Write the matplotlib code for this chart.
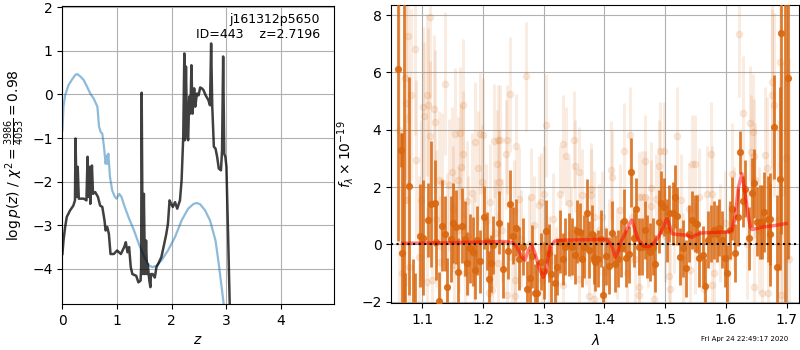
import numpy as np
import matplotlib
matplotlib.use('Agg')
import matplotlib.pyplot as plt

# --- left panel: log p(z) and prior
z_pz = [0.0, 0.02, 0.05, 0.08, 0.14, 0.20, 0.23, 0.24, 0.26, 0.28, 0.30, 0.39, 0.44, 0.46, 0.48, 0.50,
        0.51, 0.54, 0.56, 0.60, 0.65, 0.69, 0.73, 0.77, 0.79, 0.82, 0.85, 0.88, 0.94, 1.00, 1.07, 1.13,
        1.16, 1.19, 1.22, 1.25, 1.28, 1.35, 1.39, 1.43, 1.44, 1.45, 1.47, 1.49, 1.51, 1.53, 1.55, 1.56,
        1.59, 1.61, 1.62, 1.65, 1.69, 1.72, 1.75, 1.81, 1.85, 1.90, 1.93, 1.96, 1.99, 2.02, 2.06, 2.10,
        2.15, 2.18, 2.21, 2.23, 2.24, 2.26, 2.28, 2.30, 2.32, 2.34, 2.36, 2.38, 2.41, 2.43, 2.46, 2.49,
        2.52, 2.55, 2.58, 2.62, 2.67, 2.70, 2.72, 2.74, 2.77, 2.80, 2.83, 2.86, 2.90, 2.92, 2.94, 2.96,
        2.98, 3.00, 3.03, 3.06, 3.10]
logp = [-3.66, -3.35, -3.04, -2.81, -2.66, -2.55, -2.43, -1.01, -2.35, -1.66, -2.39, -2.39, -2.43, -1.43,
        -2.35, -1.66, -2.51, -1.63, -2.28, -2.24, -2.35, -2.55, -2.58, -2.89, -3.12, -3.04, -3.20, -3.66,
        -3.66, -3.58, -3.66, -3.50, -3.39, -3.62, -3.50, -3.96, -4.12, -4.16, -4.31, -4.27, -3.96, 0.04,
        -4.12, -2.28, -4.12, -3.35, -4.12, -3.89, -4.27, -4.42, -4.12, -4.12, -4.20, -3.96, -3.89, -3.73,
        -3.50, -3.20, -2.97, -2.43, -2.51, -2.58, -2.47, -2.62, -2.43, -1.97, -0.97, 0.94, -1.05, 0.64,
        -0.90, -1.05, -0.05, -0.44, 0.67, -0.44, 0.14, -0.28, 0.02, -0.02, 0.16, 0.14, 0.10, -0.02, -0.13,
        -0.25, 1.17, -0.25, -1.20, -1.24, -1.43, -1.70, -1.74, -1.28, 0.87, -1.36, -1.43, -1.66, -3.20,
        -4.81, -8.0]

z_prior = [0.0, 0.02, 0.05, 0.11, 0.17, 0.23, 0.27, 0.33, 0.39, 0.45, 0.51, 0.57, 0.64, 0.67, 0.70, 0.73,
           0.76, 0.79, 0.81, 0.82, 0.84, 0.87, 0.91, 0.96, 0.99, 1.04, 1.08, 1.14, 1.22, 1.31, 1.41, 1.50,
           1.59, 1.65, 1.72, 1.81, 1.93, 2.06, 2.18, 2.30, 2.40, 2.46, 2.52, 2.61, 2.70, 2.80, 2.86, 2.92,
           2.95, 3.00]
prior = [-0.82, -0.28, -0.02, 0.21, 0.33, 0.44, 0.47, 0.41, 0.33, 0.18, 0.02, -0.09, -0.28, -0.74, -0.86,
         -0.90, -1.20, -1.59, -1.40, -1.59, -1.36, -1.89, -2.20, -2.35, -2.39, -2.28, -2.35, -2.58, -2.85,
         -3.12, -3.47, -3.73, -3.93, -3.96, -3.93, -3.81, -3.58, -3.27, -2.89, -2.62, -2.51, -2.49, -2.52,
         -2.66, -2.89, -3.35, -3.89, -4.50, -4.81, -5.50]

# --- right panel: binned spectrum
lam_bin = [1.0604, 1.0654, 1.0665, 1.0699, 1.0721, 1.0786, 1.0842, 1.0875, 1.0957, 1.1017, 1.1094, 1.1144,
           1.1204, 1.1231, 1.1281, 1.1331, 1.1374, 1.1407, 1.1468, 1.1512, 1.1556, 1.1594, 1.1649, 1.1699,
           1.1732, 1.1792, 1.1831, 1.1875, 1.1908, 1.1957, 1.2012, 1.2061, 1.2094, 1.2133, 1.2171, 1.2270,
           1.2325, 1.2413, 1.2451, 1.2495, 1.2550, 1.2600, 1.2655, 1.2731, 1.2770, 1.2808, 1.2863, 1.2896,
           1.2950, 1.3006, 1.3045, 1.3085, 1.3127, 1.3182, 1.3226, 1.3270, 1.3313, 1.3358, 1.3413, 1.3468,
           1.3512, 1.3550, 1.3594, 1.3632, 1.3671, 1.3715, 1.3753, 1.3797, 1.3830, 1.3852, 1.3896, 1.3940,
           1.3984, 1.4028, 1.4083, 1.4127, 1.4171, 1.4220, 1.4270, 1.4319, 1.4363, 1.4401, 1.4445, 1.4489,
           1.4522, 1.4566, 1.4621, 1.4665, 1.4709, 1.4758, 1.4802, 1.4841, 1.4896, 1.4940, 1.4984, 1.5028,
           1.5072, 1.5127, 1.5171, 1.5203, 1.5247, 1.5297, 1.5346, 1.5390, 1.5445, 1.5489, 1.5533, 1.5566,
           1.5621, 1.5665, 1.5709, 1.5758, 1.5802, 1.5852, 1.5885, 1.5940, 1.5984, 1.6027, 1.6071, 1.6104,
           1.6150, 1.6203, 1.6242, 1.6286, 1.6324, 1.6390, 1.6434, 1.6467, 1.6516, 1.6560, 1.6599, 1.6632,
           1.6687, 1.6720, 1.6736, 1.6786, 1.6841, 1.6885, 1.6912, 1.6970, 1.7022]
flux_bin = [6.11, 3.29, -0.30, 9.00, -3.20, 2.04, -2.80, -2.90, 0.30, 0.24, 0.85, 1.40,
            1.46, 0.07, -1.98, 0.66, 0.38, -1.48, 0.20, 0.75, 0.61, -0.97, 0.66, 0.20,
            -0.66, -0.14, -0.26, -0.90, 0.15, -0.58, 0.94, 0.12, -1.22, -0.66, -0.02, 0.75,
            -0.87, -0.22, 1.40, 0.30, 0.58, -0.50, -0.08, -1.57, -1.17, -0.41, -1.69, -1.69,
            -0.60, -0.92, 0.46, -0.30, -1.04, -1.34, -0.78, 0.10, -0.50, -0.08, 0.00, -0.08,
            -0.37, 0.46, 0.43, -0.50, -0.08, 1.10, -0.18, 0.38, -0.47, -0.61, -0.50, 0.20,
            -1.77, -0.41, -0.74, 0.41, -0.67, -0.50, -0.14, 0.82, -0.49, -0.34, 2.51, 0.21,
            1.22, -0.08, -0.08, 0.50, -0.08, -0.26, -0.08, -0.67, 0.79, 1.46, 1.31, 0.50,
            1.08, 1.08, 1.66, 0.99, -0.43, -0.14, -0.84, 0.38, 0.85, 0.73, 0.71, -0.49,
            -0.37, -1.46, 0.17, 0.38, 0.50, 0.38, 0.59, 0.17, -0.49, -1.01, 0.50, 1.25,
            -0.30, 0.96, 3.21, 1.50, 1.95, 0.21, 1.81, 2.13, 0.79, 0.79, 0.79, 1.14,
            0.88, 0.88, 0.35, 4.10, -0.78, 2.30, 7.36, 9.00, 5.79]
err_bin = [6.0, 0.6, 4.2, 11.0, 2.2, 3.8, 2.3, 1.9, 1.8, 2.0, 1.3, 2.2,
           1.5, 1.3, 1.0, 1.6, 1.3, 1.0, 1.5, 1.4, 1.3, 1.2, 1.3, 1.3,
           1.1, 1.2, 1.2, 1.0, 1.2, 1.1, 1.1, 1.0, 1.0, 1.0, 1.0, 1.1,
           1.0, 1.0, 1.2, 1.0, 1.0, 1.1, 1.0, 1.0, 1.0, 1.1, 1.0, 1.1,
           1.0, 1.0, 1.1, 1.0, 1.0, 1.0, 1.0, 1.1, 0.9, 1.0, 1.1, 1.0,
           1.0, 1.1, 1.0, 1.0, 1.1, 1.2, 1.0, 1.0, 0.9, 1.0, 1.0, 1.0,
           1.0, 1.0, 1.0, 1.1, 1.0, 1.0, 1.0, 1.1, 1.0, 1.0, 1.2, 1.0,
           1.1, 1.0, 1.0, 1.0, 1.1, 1.0, 1.0, 1.0, 1.1, 1.1, 1.0, 1.1,
           1.0, 1.1, 1.1, 1.0, 1.0, 1.0, 1.0, 1.0, 1.0, 1.0, 1.0, 1.0,
           1.0, 1.0, 1.0, 1.0, 1.0, 1.0, 1.0, 1.0, 1.0, 1.0, 1.0, 1.1,
           1.0, 1.0, 0.75, 0.9, 1.0, 1.1, 1.2, 1.2, 1.2, 1.3, 1.3, 1.4,
           1.5, 1.6, 1.8, 1.8, 2.5, 3.2, 7.0, 11.0, 6.3]

# --- individual beam spectra (faint)
lam_beam = [1.0620, 1.0660, 1.0715, 1.0732, 1.0765, 1.0814, 1.0732, 1.0790, 1.0886, 1.0902, 1.0941, 1.0985,
            1.1006, 1.1034, 1.1078, 1.1078, 1.1090, 1.1122, 1.1133, 1.1160, 1.1199, 1.1204, 1.1230, 1.1270,
            1.1300, 1.1325, 1.1380, 1.1410, 1.1435, 1.1490, 1.1506, 1.1517, 1.1545, 1.1583, 1.1610, 1.1627,
            1.1644, 1.1671, 1.1671, 1.1700, 1.1737, 1.1760, 1.1820, 1.1850, 1.1874, 1.1919, 1.1957, 1.1984,
            1.1995, 1.2050, 1.2094, 1.2122, 1.2149, 1.2176, 1.2200, 1.2231, 1.2248, 1.2248, 1.2259, 1.2286,
            1.2314, 1.2380, 1.2396, 1.2396, 1.2451, 1.2479, 1.2506, 1.2523, 1.2534, 1.2545, 1.2589, 1.2620,
            1.2715, 1.2760, 1.2797, 1.2836, 1.2918, 1.2962, 1.2973, 1.3001, 1.3039, 1.3080, 1.3150, 1.3200,
            1.3275, 1.3314, 1.3319, 1.3374, 1.3413, 1.3450, 1.3495, 1.3523, 1.3578, 1.3589, 1.3633, 1.3700,
            1.3753, 1.3786, 1.3786, 1.3824, 1.3830, 1.3907, 1.3962, 1.4017, 1.4070, 1.4116, 1.4127, 1.4200,
            1.4250, 1.4319, 1.4380, 1.4429, 1.4456, 1.4500, 1.4566, 1.4566, 1.4566, 1.4621, 1.4676, 1.4676,
            1.4720, 1.4764, 1.4775, 1.4813, 1.4852, 1.4896, 1.4923, 1.4978, 1.5000, 1.5072, 1.5088, 1.5150,
            1.5198, 1.5269, 1.5300, 1.5390, 1.5418, 1.5445, 1.5500, 1.5500, 1.5566, 1.5637, 1.5692, 1.5764,
            1.5775, 1.5775, 1.5802, 1.5900, 1.5995, 1.6060, 1.6104, 1.6132, 1.6225, 1.6280, 1.6350, 1.6406,
            1.6423, 1.6445, 1.6461, 1.6461, 1.6489, 1.6550, 1.6599, 1.6643, 1.6681, 1.6698, 1.6753, 1.6764,
            1.6797, 1.6863, 1.6885, 1.6901, 1.6929, 1.6990, 1.7040]
flux_beam = [4.0, -1.0, 5.79, 4.95, 7.26, 5.23, 1.54, -0.80, 6.81, 2.94, -0.43, 1.54,
             4.78, 4.47, 5.20, -1.30, 4.86, 3.79, 7.92, -1.25, 4.72, 4.28, 0.90, 2.24,
             -0.60, 2.18, 5.61, 0.20, 2.07, 2.51, 1.25, -0.72, 3.85, 2.24, 0.50, 3.89,
             2.71, 4.86, 3.17, -1.00, 1.52, 0.30, 1.78, -0.30, 3.58, 2.65, 3.87, 2.18,
             3.81, 0.80, -1.71, 1.49, -1.60, 3.61, 0.40, 2.80, 3.66, -0.66, 2.18, 3.66,
             0.50, 3.14, 3.66, -1.77, 5.24, -0.43, 1.16, -1.80, -1.25, 3.45, 1.58, 0.20,
             5.87, 0.00, 1.66, 0.67, 1.37, 1.49, -1.25, 1.75, 4.16, -0.60, 0.90, -1.00,
             1.75, -1.42, 3.50, 3.08, 1.43, 0.40, 3.66, 2.74, 2.51, -1.19, 1.72, 0.20,
             -1.79, 1.72, 1.95, -1.90, 0.96, 0.50, 0.96, -0.96, 0.00, 2.59, 2.36, -0.30,
             1.20, 3.25, -1.00, 3.81, 0.96, -0.50, 1.64, -1.48, -1.77, 1.66, 1.66, 2.90,
             0.10, 1.33, 1.98, -1.92, 1.57, 2.74, 3.26, 3.26, 0.30, -1.11, -1.54, 0.60,
             3.78, 1.54, -0.50, 1.25, -0.90, 2.82, 2.80, -0.14, 1.66, -1.54, 1.75, 3.17,
             1.75, -1.42, -1.01, 0.40, 0.75, -0.43, 2.45, 0.90, 7.33, 4.57, 0.00, 4.22,
             3.23, 3.93, 3.08, -1.50, 2.24, 0.50, -1.71, 3.11, 2.65, -1.71, 5.67, 5.21,
             4.86, 0.85, 6.37, -1.77, 1.83, 3.00, -0.50]
err_beam = [6.0, 5.0, 3.5, 3.5, 3.0, 3.0, 3.0, 3.0, 3.0, 2.8, 2.8, 2.8,
            2.8, 2.6, 2.8, 2.6, 2.7, 2.6, 2.8, 2.5, 2.6, 2.5, 2.4, 2.4,
            2.3, 2.4, 2.5, 2.3, 2.3, 2.3, 2.2, 2.2, 2.3, 2.2, 2.2, 2.3,
            2.2, 2.3, 2.2, 2.1, 2.1, 2.1, 2.1, 2.0, 2.1, 2.0, 2.1, 2.0,
            2.0, 2.0, 2.0, 2.0, 1.9, 2.0, 1.9, 1.9, 1.9, 1.8, 1.8, 1.9,
            1.8, 1.9, 1.9, 1.8, 2.0, 1.8, 1.8, 1.8, 1.8, 1.8, 1.8, 1.7,
            1.9, 1.7, 1.7, 1.7, 1.7, 1.7, 1.7, 1.7, 1.8, 1.6, 1.6, 1.6,
            1.7, 1.6, 1.7, 1.7, 1.6, 1.6, 1.7, 1.6, 1.6, 1.6, 1.6, 1.6,
            1.6, 1.6, 1.6, 1.6, 1.6, 1.6, 1.6, 1.6, 1.6, 1.7, 1.6, 1.6,
            1.6, 1.7, 1.6, 1.7, 1.6, 1.6, 1.6, 1.6, 1.6, 1.6, 1.6, 1.6,
            1.6, 1.6, 1.6, 1.6, 1.6, 1.6, 1.7, 1.7, 1.6, 1.6, 1.6, 1.6,
            1.7, 1.6, 1.6, 1.6, 1.6, 1.7, 1.7, 1.6, 1.7, 1.7, 1.7, 1.8,
            1.7, 1.7, 1.7, 1.7, 1.8, 1.8, 1.8, 1.8, 2.2, 2.0, 1.9, 2.0,
            2.0, 2.0, 2.0, 2.0, 2.0, 2.2, 2.3, 2.4, 2.5, 2.6, 3.0, 3.0,
            3.2, 3.5, 3.8, 4.0, 4.5, 6.0, 7.0]

# --- best-fit model
lam_model = [1.068, 1.1127, 1.1677, 1.2336, 1.2490, 1.2556, 1.2638, 1.2693, 1.2748, 1.2803, 1.2858, 1.2940,
             1.2995, 1.3039, 1.3105, 1.3188, 1.3325, 1.3875, 1.4039, 1.4122, 1.4177, 1.4215, 1.4259, 1.4342,
             1.4413, 1.4452, 1.4490, 1.4562, 1.4644, 1.4727, 1.4809, 1.4891, 1.4974, 1.5029, 1.5056, 1.5111,
             1.5193, 1.5358, 1.5440, 1.5495, 1.5605, 1.5797, 1.6045, 1.6100, 1.6155, 1.6210, 1.6265, 1.6303,
             1.6347, 1.6402, 1.6430, 1.6622, 1.6842, 1.6995]
flux_model = [0.04, 0.05, 0.07, 0.10, 0.07, -0.08, -0.43, -0.55, -0.20, -0.03, -0.32, -0.90,
              -1.15, -0.90, -0.08, 0.12, 0.15, 0.17, 0.17, -0.03, -0.43, -0.32, 0.03, 0.38,
              0.73, 0.85, 0.61, 0.15, -0.06, -0.08, 0.03, 0.26, 0.61, 0.90, 0.79, 0.38,
              0.35, 0.32, 0.24, 0.32, 0.40, 0.42, 0.43, 0.50, 0.96, 2.01, 2.47, 2.01,
              1.31, 0.61, 0.52, 0.61, 0.67, 0.73]

orange = '#d9670f'

fig = plt.figure(figsize=(8, 3.5), dpi=100)
ax1 = fig.add_axes([0.078, 0.131, 0.339, 0.852])
ax2 = fig.add_axes([0.489, 0.133, 0.510, 0.854])

ax1.plot(z_prior, prior, color='tab:blue', alpha=0.5, lw=1.6)
ax1.plot(z_pz, logp, color='k', alpha=0.75, lw=1.8)
ax1.set_xlim(0, 4.96)
ax1.set_ylim(-4.81, 2.03)
ax1.set_xticks([0, 1, 2, 3, 4])
ax1.set_yticks([-4, -3, -2, -1, 0, 1, 2])
ax1.grid(True)
ax1.set_xlabel(r'$z$')
ax1.set_ylabel(r'$\log p(z)$' + ' / ' + r'$\chi^2=\frac{3986}{4053}=0.98$')
ax1.text(0.95, 0.975, 'j161312p5650\nID=443    z=2.7196', transform=ax1.transAxes,
         ha='right', va='top', fontsize=9)

ax2.errorbar(lam_beam, flux_beam, err_beam, color=orange, marker='o', ms=4.5, lw=2.2,
             linestyle='none', alpha=0.12, zorder=2)
ax2.errorbar(lam_bin, flux_bin, err_bin, color=orange, marker='o', ms=4.2, lw=2.0,
             linestyle='none', alpha=0.85, zorder=3)
ax2.plot(lam_model, flux_model, color='r', alpha=0.5, lw=2.5, zorder=4)
ax2.plot([1.0489, 1.7209], [0, 0], 'k:', lw=1.5, zorder=5)
ax2.set_xlim(1.0489, 1.7209)
ax2.set_ylim(-2.06, 8.37)
ax2.set_xticks([1.1, 1.2, 1.3, 1.4, 1.5, 1.6, 1.7])
ax2.set_yticks([-2, 0, 2, 4, 6, 8])
ax2.grid(True)
ax2.set_xlabel(r'$\lambda$')
ax2.set_ylabel(r'$f_\lambda \times 10^{-19}$')

fig.text(0.985, 0.022, 'Fri Apr 24 22:49:17 2020', ha='right', va='bottom', fontsize=5)

fig.savefig('out.png', dpi=100)
